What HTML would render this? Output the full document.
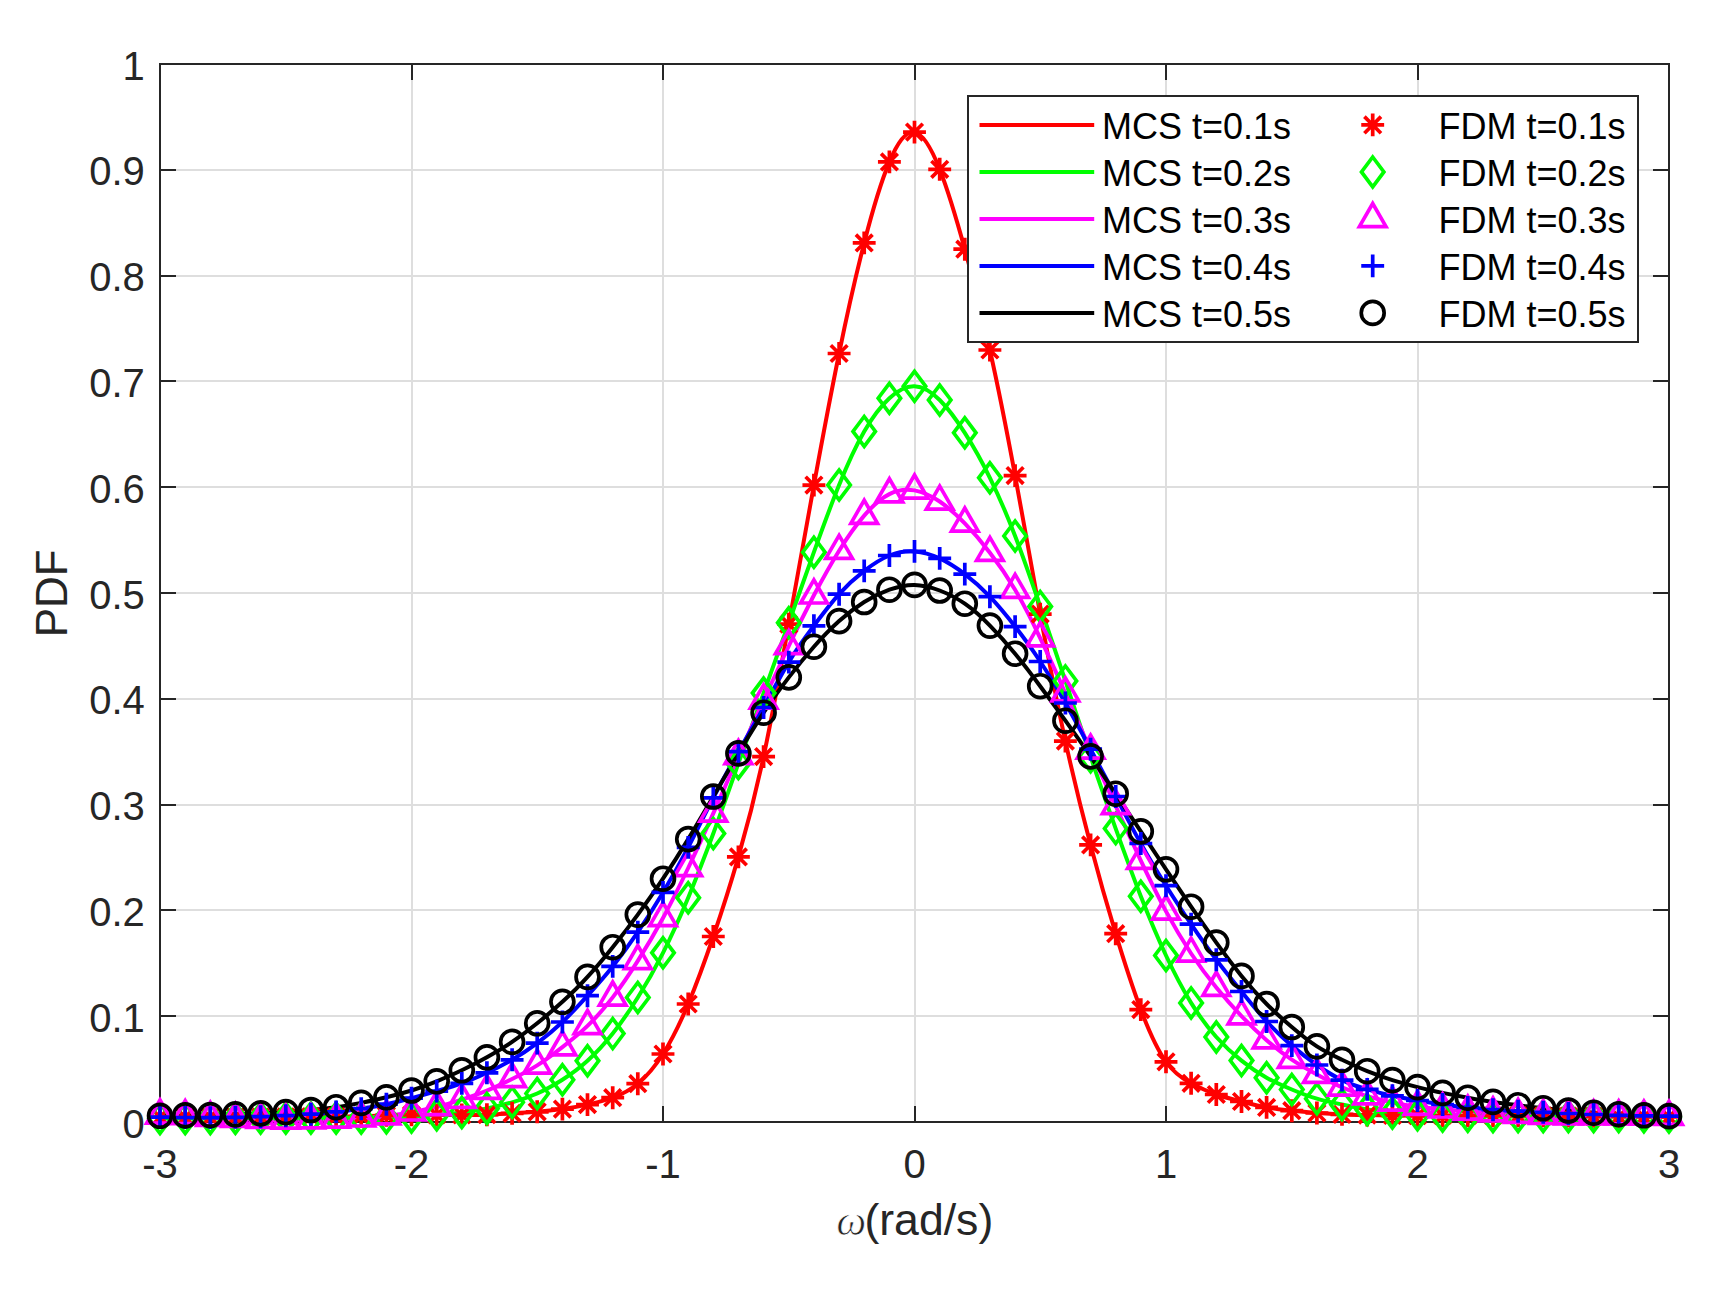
<!DOCTYPE html>
<html lang="en">
<head>
<meta charset="utf-8">
<title>PDF of omega: MCS vs FDM</title>
<style>
html,body{margin:0;padding:0;background:#fff;}
body{width:1720px;height:1295px;overflow:hidden;}
svg{display:block;}
text{font-family:"Liberation Sans", Arial, Helvetica, sans-serif;}
.tk{font-size:40px;fill:#262626;}
.lb{font-size:44px;fill:#262626;}
.lg{font-size:36px;fill:#000;}
.om{font-family:"Liberation Serif","DejaVu Serif",serif;font-style:italic;font-size:42px;}
</style>
</head>
<body>
<svg width="1720" height="1295" viewBox="0 0 1720 1295">
<rect x="0" y="0" width="1720" height="1295" fill="#ffffff"/>
<defs>
<g id="m0" fill="none" stroke="#ff0000" stroke-width="3.7"><path d="M-11.45 0H11.45 M0 -11.45V11.45 M-8.3 -8.3L8.3 8.3 M-8.3 8.3L8.3 -8.3"/></g>
<g id="m1" fill="none" stroke="#00ff00" stroke-width="3.7" stroke-linejoin="miter" stroke-miterlimit="10"><path d="M0 -14.9L11.2 0L0 14.9L-11.2 0Z"/></g>
<g id="m2" fill="none" stroke="#ff00ff" stroke-width="3.7" stroke-linejoin="miter" stroke-miterlimit="10"><path d="M0 -15.36L13.30 7.68L-13.30 7.68Z"/></g>
<g id="m3" fill="none" stroke="#0000ff" stroke-width="3.7"><path d="M-11.45 0H11.45 M0 -11.45V11.45"/></g>
<g id="m4" fill="none" stroke="#000000" stroke-width="3.7"><circle cx="0" cy="0" r="11.45"/></g>
<clipPath id="cp"><rect x="160" y="64" width="1509" height="1058"/></clipPath>
</defs>
<path d="M160 64V1122 M412 64V1122 M663 64V1122 M915 64V1122 M1166 64V1122 M1418 64V1122 M1669 64V1122 M160 1122H1669 M160 1016H1669 M160 910H1669 M160 805H1669 M160 699H1669 M160 593H1669 M160 487H1669 M160 381H1669 M160 276H1669 M160 170H1669 M160 64H1669" stroke="#dedede" stroke-width="2" fill="none"/>
<path d="M412 1122v-16 M412 64v16 M663 1122v-16 M663 64v16 M915 1122v-16 M915 64v16 M1166 1122v-16 M1166 64v16 M1418 1122v-16 M1418 64v16 M160 1016h16 M1669 1016h-16 M160 910h16 M1669 910h-16 M160 805h16 M1669 805h-16 M160 699h16 M1669 699h-16 M160 593h16 M1669 593h-16 M160 487h16 M1669 487h-16 M160 381h16 M1669 381h-16 M160 276h16 M1669 276h-16 M160 170h16 M1669 170h-16" stroke="#262626" stroke-width="2" fill="none"/>
<rect x="160" y="64" width="1509" height="1058" fill="none" stroke="#262626" stroke-width="2"/>
<text class="tk" x="160" y="1177.5" text-anchor="middle">-3</text>
<text class="tk" x="411.5" y="1177.5" text-anchor="middle">-2</text>
<text class="tk" x="663" y="1177.5" text-anchor="middle">-1</text>
<text class="tk" x="914.5" y="1177.5" text-anchor="middle">0</text>
<text class="tk" x="1166" y="1177.5" text-anchor="middle">1</text>
<text class="tk" x="1417.5" y="1177.5" text-anchor="middle">2</text>
<text class="tk" x="1669" y="1177.5" text-anchor="middle">3</text>
<text class="tk" x="144.8" y="1137.5" text-anchor="end">0</text>
<text class="tk" x="144.8" y="1031.7" text-anchor="end">0.1</text>
<text class="tk" x="144.8" y="925.9" text-anchor="end">0.2</text>
<text class="tk" x="144.8" y="820.1" text-anchor="end">0.3</text>
<text class="tk" x="144.8" y="714.3" text-anchor="end">0.4</text>
<text class="tk" x="144.8" y="608.5" text-anchor="end">0.5</text>
<text class="tk" x="144.8" y="502.7" text-anchor="end">0.6</text>
<text class="tk" x="144.8" y="396.9" text-anchor="end">0.7</text>
<text class="tk" x="144.8" y="291.1" text-anchor="end">0.8</text>
<text class="tk" x="144.8" y="185.3" text-anchor="end">0.9</text>
<text class="tk" x="144.8" y="79.5" text-anchor="end">1</text>
<text class="om" x="836.5" y="1234.5" fill="#262626" stroke="#ffffff" stroke-width="0.7">ω</text>
<text class="lb" x="864.4" y="1234.5" style="font-size:44.6px">(rad/s)</text>
<text class="lb" transform="translate(67.2 593.3) rotate(-90)" text-anchor="middle">PDF</text>
<g clip-path="url(#cp)" fill="none" stroke-width="4" stroke-linejoin="round">
<path stroke="#ff0000" d="M160 1117.2C168.4 1117.2 176.8 1117.2 185.2 1117.2C193.5 1117.2 201.9 1117.3 210.3 1117.2C218.7 1117.2 227.1 1117.2 235.4 1117.1C243.8 1117.1 252.2 1117.1 260.6 1117.0C269.0 1117.0 277.4 1117.0 285.8 1116.9C294.1 1116.9 302.5 1116.8 310.9 1116.7C319.3 1116.6 327.7 1116.6 336.1 1116.5C344.4 1116.4 352.8 1116.4 361.2 1116.2C369.6 1116.0 378.0 1115.7 386.4 1115.4C394.7 1115.2 403.1 1115.0 411.5 1114.9C419.9 1114.9 428.3 1115.0 436.7 1115.0C445.0 1115.1 453.4 1115.0 461.8 1115.0C470.2 1115.0 478.6 1115.0 486.9 1114.7C495.3 1114.4 503.7 1113.8 512.1 1113.3C520.5 1112.8 528.9 1112.5 537.2 1111.8C545.6 1111.2 554.0 1110.3 562.4 1109.1C570.8 1107.9 579.2 1106.4 587.5 1104.6C595.9 1102.9 604.3 1100.7 612.7 1097.7C621.1 1094.6 629.5 1090.5 637.8 1083.7C646.2 1076.9 654.6 1067.2 663.0 1054.0C671.4 1040.7 679.8 1023.9 688.2 1004.0C696.5 984.1 704.9 961.1 713.3 936.5C721.7 912.0 730.1 885.9 738.4 856.9C746.8 827.8 755.2 795.8 763.6 756.6C772.0 717.3 780.4 670.8 788.8 624.2C797.1 577.6 805.5 530.9 813.9 485.1C822.3 439.3 830.7 394.4 839.1 353.5C847.4 312.6 855.8 275.6 864.2 242.9C872.6 210.2 881.0 181.8 889.4 161.9C897.7 142.0 906.1 130.6 914.5 132.1C922.9 133.6 931.3 148.0 939.7 169.3C948.0 190.5 956.4 218.7 964.8 249.2C973.2 279.6 981.6 312.3 989.9 350.0C998.3 387.7 1006.7 430.3 1015.1 475.6C1023.5 520.8 1031.9 568.6 1040.2 614.1C1048.6 659.5 1057.0 702.7 1065.4 741.1C1073.8 779.6 1082.2 813.3 1090.6 844.9C1098.9 876.5 1107.3 905.9 1115.7 933.7C1124.1 961.4 1132.5 987.5 1140.8 1009.6C1149.2 1031.8 1157.6 1050.1 1166.0 1061.8C1174.4 1073.5 1182.8 1078.8 1191.1 1083.3C1199.5 1087.8 1207.9 1091.6 1216.3 1094.5C1224.7 1097.4 1233.1 1099.4 1241.5 1101.5C1249.8 1103.6 1258.2 1105.8 1266.6 1107.4C1275.0 1109.0 1283.4 1109.8 1291.8 1110.7C1300.1 1111.5 1308.5 1112.4 1316.9 1113.0C1325.3 1113.6 1333.7 1114.1 1342.0 1114.4C1350.4 1114.7 1358.8 1115.0 1367.2 1115.1C1375.6 1115.3 1384.0 1115.4 1392.4 1115.4C1400.7 1115.5 1409.1 1115.6 1417.5 1115.7C1425.9 1115.7 1434.3 1115.7 1442.6 1115.7C1451.0 1115.6 1459.4 1115.6 1467.8 1115.7C1476.2 1115.7 1484.6 1115.7 1493.0 1115.7C1501.3 1115.6 1509.7 1115.6 1518.1 1115.7C1526.5 1115.7 1534.9 1115.8 1543.2 1115.9C1551.6 1115.9 1560.0 1116.0 1568.4 1116.1C1576.8 1116.1 1585.2 1116.2 1593.6 1116.3C1601.9 1116.4 1610.3 1116.4 1618.7 1116.5C1627.1 1116.6 1635.5 1116.6 1643.9 1116.7C1652.2 1116.8 1660.6 1116.9 1669.0 1116.9"/>
<path stroke="#00ff00" d="M160 1118.4C168.4 1118.4 176.8 1118.4 185.2 1118.4C193.5 1118.4 201.9 1118.4 210.3 1118.4C218.7 1118.4 227.1 1118.4 235.4 1118.3C243.8 1118.2 252.2 1118.2 260.6 1118.1C269.0 1118.0 277.4 1117.9 285.8 1117.9C294.1 1117.9 302.5 1118.0 310.9 1118.0C319.3 1118.0 327.7 1118.0 336.1 1118.0C344.4 1118.0 352.8 1118.0 361.2 1118.0C369.6 1117.9 378.0 1117.8 386.4 1117.7C394.7 1117.6 403.1 1117.5 411.5 1117.0C419.9 1116.5 428.3 1115.6 436.7 1114.8C445.0 1114.0 453.4 1113.5 461.8 1112.5C470.2 1111.5 478.6 1110.1 486.9 1108.4C495.3 1106.6 503.7 1104.7 512.1 1102.3C520.5 1100.0 528.9 1097.2 537.2 1093.5C545.6 1089.8 554.0 1085.1 562.4 1079.8C570.8 1074.4 579.2 1068.4 587.5 1060.8C595.9 1053.3 604.3 1044.2 612.7 1033.6C621.1 1022.9 629.5 1010.9 637.8 997.5C646.2 984.1 654.6 969.4 663.0 952.8C671.4 936.2 679.8 917.7 688.2 897.7C696.5 877.7 704.9 856.1 713.3 833.5C721.7 810.8 730.1 787.0 738.4 763.4C746.8 739.9 755.2 716.5 763.6 693.1C772.0 669.7 780.4 646.4 788.8 622.8C797.1 599.3 805.5 575.6 813.9 552.2C822.3 528.8 830.7 505.7 839.1 485.0C847.4 464.3 855.8 446.0 864.2 431.4C872.6 416.9 881.0 405.9 889.4 398.2C897.7 390.5 906.1 386.0 914.5 386.3C922.9 386.6 931.3 391.7 939.7 400.0C948.0 408.3 956.4 419.7 964.8 432.8C973.2 445.9 981.6 460.7 989.9 477.8C998.3 494.9 1006.7 514.2 1015.1 536.0C1023.5 557.7 1031.9 582.0 1040.2 606.4C1048.6 630.9 1057.0 655.7 1065.4 680.9C1073.8 706.2 1082.2 731.9 1090.6 756.7C1098.9 781.4 1107.3 805.2 1115.7 828.6C1124.1 852.0 1132.5 874.9 1140.8 896.3C1149.2 917.7 1157.6 937.6 1166.0 955.5C1174.4 973.4 1182.8 989.3 1191.1 1002.9C1199.5 1016.4 1207.9 1027.7 1216.3 1037.0C1224.7 1046.4 1233.1 1054.0 1241.5 1060.6C1249.8 1067.3 1258.2 1073.0 1266.6 1077.7C1275.0 1082.4 1283.4 1086.0 1291.8 1089.5C1300.1 1093.0 1308.5 1096.3 1316.9 1098.7C1325.3 1101.2 1333.7 1102.8 1342.0 1104.5C1350.4 1106.3 1358.8 1108.0 1367.2 1109.5C1375.6 1111.0 1384.0 1112.2 1392.4 1113.0C1400.7 1113.8 1409.1 1114.3 1417.5 1114.8C1425.9 1115.3 1434.3 1115.8 1442.6 1116.0C1451.0 1116.2 1459.4 1116.1 1467.8 1116.2C1476.2 1116.2 1484.6 1116.3 1493.0 1116.4C1501.3 1116.5 1509.7 1116.5 1518.1 1116.5C1526.5 1116.5 1534.9 1116.5 1543.2 1116.5C1551.6 1116.5 1560.0 1116.5 1568.4 1116.5C1576.8 1116.5 1585.2 1116.5 1593.6 1116.5C1601.9 1116.5 1610.3 1116.5 1618.7 1116.5C1627.1 1116.5 1635.5 1116.6 1643.9 1116.7C1652.2 1116.8 1660.6 1116.9 1669.0 1117.0"/>
<path stroke="#ff00ff" d="M160 1115.4C168.4 1115.2 176.8 1115.5 185.2 1116.0C193.5 1116.5 201.9 1117.2 210.3 1117.7C218.7 1118.2 227.1 1118.5 235.4 1118.8C243.8 1119.2 252.2 1119.5 260.6 1119.8C269.0 1120.1 277.4 1120.4 285.8 1120.4C294.1 1120.5 302.5 1120.3 310.9 1120.1C319.3 1119.9 327.7 1119.7 336.1 1119.5C344.4 1119.2 352.8 1118.8 361.2 1118.3C369.6 1117.8 378.0 1117.2 386.4 1116.2C394.7 1115.2 403.1 1113.8 411.5 1112.3C419.9 1110.7 428.3 1109.1 436.7 1107.0C445.0 1104.9 453.4 1102.4 461.8 1099.7C470.2 1097.0 478.6 1094.1 486.9 1090.7C495.3 1087.2 503.7 1083.2 512.1 1079.0C520.5 1074.9 528.9 1070.7 537.2 1065.4C545.6 1060.1 554.0 1053.6 562.4 1047.1C570.8 1040.6 579.2 1034.0 587.5 1025.9C595.9 1017.9 604.3 1008.3 612.7 997.4C621.1 986.4 629.5 974.1 637.8 960.9C646.2 947.6 654.6 933.5 663.0 918.0C671.4 902.5 679.8 885.5 688.2 868.0C696.5 850.4 704.9 832.3 713.3 813.4C721.7 794.5 730.1 774.9 738.4 755.9C746.8 737.0 755.2 718.7 763.6 700.4C772.0 682.1 780.4 663.7 788.8 646.0C797.1 628.3 805.5 611.4 813.9 595.3C822.3 579.3 830.7 564.2 839.1 550.7C847.4 537.2 855.8 525.3 864.2 515.6C872.6 505.8 881.0 498.3 889.4 494.1C897.7 489.8 906.1 488.9 914.5 490.4C922.9 491.9 931.3 495.8 939.7 501.5C948.0 507.2 956.4 514.7 964.8 523.4C973.2 532.0 981.6 541.8 989.9 552.7C998.3 563.5 1006.7 575.5 1015.1 589.7C1023.5 604.0 1031.9 620.5 1040.2 638.1C1048.6 655.6 1057.0 674.2 1065.4 693.2C1073.8 712.2 1082.2 731.7 1090.6 750.5C1098.9 769.4 1107.3 787.6 1115.7 806.0C1124.1 824.3 1132.5 842.8 1140.8 860.7C1149.2 878.5 1157.6 895.8 1166.0 911.4C1174.4 926.9 1182.8 940.9 1191.1 953.5C1199.5 966.1 1207.9 977.3 1216.3 987.6C1224.7 998.0 1233.1 1007.4 1241.5 1016.1C1249.8 1024.8 1258.2 1032.9 1266.6 1040.2C1275.0 1047.5 1283.4 1054.1 1291.8 1059.7C1300.1 1065.3 1308.5 1070.0 1316.9 1074.6C1325.3 1079.2 1333.7 1083.8 1342.0 1087.4C1350.4 1091.0 1358.8 1093.7 1367.2 1096.2C1375.6 1098.6 1384.0 1100.8 1392.4 1102.5C1400.7 1104.3 1409.1 1105.6 1417.5 1106.7C1425.9 1107.7 1434.3 1108.5 1442.6 1109.3C1451.0 1110.1 1459.4 1110.9 1467.8 1111.5C1476.2 1112.2 1484.6 1112.7 1493.0 1113.2C1501.3 1113.7 1509.7 1114.3 1518.1 1114.7C1526.5 1115.1 1534.9 1115.5 1543.2 1115.8C1551.6 1116.0 1560.0 1116.1 1568.4 1116.2C1576.8 1116.2 1585.2 1116.2 1593.6 1116.2C1601.9 1116.2 1610.3 1116.1 1618.7 1116.2C1627.1 1116.2 1635.5 1116.4 1643.9 1116.5C1652.2 1116.6 1660.6 1116.7 1669.0 1116.7"/>
<path stroke="#0000ff" d="M160 1117.2C168.4 1117.3 176.8 1117.4 185.2 1117.5C193.5 1117.5 201.9 1117.6 210.3 1117.6C218.7 1117.5 227.1 1117.5 235.4 1117.3C243.8 1117.2 252.2 1117.0 260.6 1116.7C269.0 1116.4 277.4 1116.1 285.8 1115.7C294.1 1115.2 302.5 1114.8 310.9 1114.2C319.3 1113.6 327.7 1112.9 336.1 1111.9C344.4 1111.0 352.8 1109.9 361.2 1108.7C369.6 1107.4 378.0 1106.0 386.4 1104.2C394.7 1102.5 403.1 1100.4 411.5 1098.2C419.9 1095.9 428.3 1093.5 436.7 1091.1C445.0 1088.7 453.4 1086.4 461.8 1083.4C470.2 1080.4 478.6 1076.7 486.9 1072.8C495.3 1068.9 503.7 1064.7 512.1 1059.8C520.5 1054.9 528.9 1049.3 537.2 1043.1C545.6 1036.8 554.0 1030.0 562.4 1022.0C570.8 1014.1 579.2 1005.0 587.5 995.7C595.9 986.4 604.3 976.9 612.7 966.4C621.1 955.9 629.5 944.4 637.8 932.1C646.2 919.7 654.6 906.5 663.0 892.4C671.4 878.4 679.8 863.5 688.2 847.4C696.5 831.4 704.9 814.2 713.3 797.9C721.7 781.7 730.1 766.4 738.4 751.7C746.8 737.0 755.2 722.7 763.6 707.5C772.0 692.2 780.4 675.9 788.8 662.1C797.1 648.3 805.5 637.0 813.9 625.8C822.3 614.6 830.7 603.5 839.1 594.2C847.4 584.9 855.8 577.4 864.2 570.9C872.6 564.4 881.0 558.9 889.4 555.5C897.7 552.2 906.1 550.8 914.5 551.4C922.9 552.0 931.3 554.5 939.7 558.4C948.0 562.3 956.4 567.7 964.8 574.1C973.2 580.4 981.6 587.9 989.9 596.7C998.3 605.6 1006.7 615.8 1015.1 626.6C1023.5 637.4 1031.9 648.8 1040.2 661.5C1048.6 674.1 1057.0 688.2 1065.4 703.0C1073.8 717.9 1082.2 733.5 1090.6 749.2C1098.9 764.8 1107.3 780.5 1115.7 796.5C1124.1 812.4 1132.5 828.5 1140.8 843.5C1149.2 858.6 1157.6 872.4 1166.0 885.7C1174.4 899.0 1182.8 911.8 1191.1 924.2C1199.5 936.6 1207.9 948.6 1216.3 959.8C1224.7 971.0 1233.1 981.2 1241.5 991.5C1249.8 1001.9 1258.2 1012.3 1266.6 1021.5C1275.0 1030.6 1283.4 1038.5 1291.8 1045.6C1300.1 1052.7 1308.5 1059.1 1316.9 1065.0C1325.3 1070.8 1333.7 1076.1 1342.0 1080.1C1350.4 1084.1 1358.8 1087.0 1367.2 1089.4C1375.6 1091.9 1384.0 1094.0 1392.4 1095.8C1400.7 1097.6 1409.1 1099.1 1417.5 1100.5C1425.9 1102.0 1434.3 1103.4 1442.6 1104.5C1451.0 1105.7 1459.4 1106.6 1467.8 1107.4C1476.2 1108.2 1484.6 1109.1 1493.0 1109.7C1501.3 1110.4 1509.7 1110.8 1518.1 1111.2C1526.5 1111.6 1534.9 1111.9 1543.2 1112.3C1551.6 1112.7 1560.0 1113.2 1568.4 1113.5C1576.8 1113.9 1585.2 1114.2 1593.6 1114.5C1601.9 1114.8 1610.3 1115.1 1618.7 1115.3C1627.1 1115.6 1635.5 1115.7 1643.9 1115.8C1652.2 1115.9 1660.6 1115.9 1669.0 1116.1"/>
<path stroke="#000000" d="M160 1115.8C168.4 1115.6 176.8 1115.5 185.2 1115.4C193.5 1115.3 201.9 1115.2 210.3 1115.0C218.7 1114.8 227.1 1114.5 235.4 1114.3C243.8 1114.0 252.2 1113.8 260.6 1113.4C269.0 1113.1 277.4 1112.6 285.8 1112.1C294.1 1111.5 302.5 1110.8 310.9 1110.0C319.3 1109.3 327.7 1108.4 336.1 1107.2C344.4 1106.0 352.8 1104.5 361.2 1102.9C369.6 1101.2 378.0 1099.4 386.4 1097.3C394.7 1095.3 403.1 1093.1 411.5 1090.5C419.9 1087.8 428.3 1084.7 436.7 1081.3C445.0 1077.9 453.4 1074.3 461.8 1070.3C470.2 1066.3 478.6 1061.9 486.9 1057.3C495.3 1052.6 503.7 1047.6 512.1 1041.9C520.5 1036.3 528.9 1030.0 537.2 1023.3C545.6 1016.6 554.0 1009.4 562.4 1001.8C570.8 994.2 579.2 986.1 587.5 976.9C595.9 967.8 604.3 957.7 612.7 947.2C621.1 936.8 629.5 926.0 637.8 914.6C646.2 903.3 654.6 891.3 663.0 878.7C671.4 866.1 679.8 852.9 688.2 839.1C696.5 825.3 704.9 810.9 713.3 796.5C721.7 782.0 730.1 767.6 738.4 753.4C746.8 739.2 755.2 725.4 763.6 712.7C772.0 699.9 780.4 688.4 788.8 677.4C797.1 666.5 805.5 656.2 813.9 646.7C822.3 637.3 830.7 628.7 839.1 621.1C847.4 613.6 855.8 607.2 864.2 602.0C872.6 596.8 881.0 592.7 889.4 589.7C897.7 586.7 906.1 584.7 914.5 584.9C922.9 585.0 931.3 587.3 939.7 590.5C948.0 593.7 956.4 597.8 964.8 603.7C973.2 609.5 981.6 617.1 989.9 625.6C998.3 634.1 1006.7 643.5 1015.1 653.7C1023.5 663.9 1031.9 674.9 1040.2 686.2C1048.6 697.5 1057.0 709.0 1065.4 720.7C1073.8 732.4 1082.2 744.2 1090.6 756.4C1098.9 768.6 1107.3 781.2 1115.7 793.7C1124.1 806.3 1132.5 818.7 1140.8 831.4C1149.2 844.0 1157.6 856.7 1166.0 869.3C1174.4 882.0 1182.8 894.5 1191.1 906.7C1199.5 918.9 1207.9 930.9 1216.3 942.6C1224.7 954.2 1233.1 965.5 1241.5 975.9C1249.8 986.2 1258.2 995.6 1266.6 1004.0C1275.0 1012.4 1283.4 1019.9 1291.8 1027.0C1300.1 1034.1 1308.5 1040.9 1316.9 1046.4C1325.3 1051.8 1333.7 1055.8 1342.0 1059.8C1350.4 1063.8 1358.8 1067.8 1367.2 1071.2C1375.6 1074.6 1384.0 1077.5 1392.4 1080.1C1400.7 1082.7 1409.1 1085.0 1417.5 1087.1C1425.9 1089.2 1434.3 1091.2 1442.6 1092.9C1451.0 1094.6 1459.4 1096.2 1467.8 1097.7C1476.2 1099.2 1484.6 1100.7 1493.0 1101.9C1501.3 1103.1 1509.7 1104.1 1518.1 1105.2C1526.5 1106.2 1534.9 1107.4 1543.2 1108.2C1551.6 1109.1 1560.0 1109.7 1568.4 1110.5C1576.8 1111.2 1585.2 1112.1 1593.6 1112.7C1601.9 1113.3 1610.3 1113.8 1618.7 1114.2C1627.1 1114.6 1635.5 1115.0 1643.9 1115.3C1652.2 1115.7 1660.6 1115.9 1669.0 1116.1"/>
</g>
<g><use href="#m0" x="160.0" y="1117.2"/><use href="#m0" x="185.2" y="1117.2"/><use href="#m0" x="210.3" y="1117.2"/><use href="#m0" x="235.4" y="1117.1"/><use href="#m0" x="260.6" y="1117.0"/><use href="#m0" x="285.8" y="1116.9"/><use href="#m0" x="310.9" y="1116.7"/><use href="#m0" x="336.1" y="1116.5"/><use href="#m0" x="361.2" y="1116.2"/><use href="#m0" x="386.4" y="1115.4"/><use href="#m0" x="411.5" y="1114.9"/><use href="#m0" x="436.7" y="1115.0"/><use href="#m0" x="461.8" y="1115.0"/><use href="#m0" x="486.9" y="1114.7"/><use href="#m0" x="512.1" y="1113.3"/><use href="#m0" x="537.2" y="1111.8"/><use href="#m0" x="562.4" y="1109.1"/><use href="#m0" x="587.5" y="1104.6"/><use href="#m0" x="612.7" y="1097.7"/><use href="#m0" x="637.8" y="1083.7"/><use href="#m0" x="663.0" y="1054.0"/><use href="#m0" x="688.2" y="1004.0"/><use href="#m0" x="713.3" y="936.5"/><use href="#m0" x="738.4" y="856.9"/><use href="#m0" x="763.6" y="756.6"/><use href="#m0" x="788.8" y="624.2"/><use href="#m0" x="813.9" y="485.1"/><use href="#m0" x="839.1" y="353.5"/><use href="#m0" x="864.2" y="242.9"/><use href="#m0" x="889.4" y="161.9"/><use href="#m0" x="914.5" y="132.1"/><use href="#m0" x="939.7" y="169.3"/><use href="#m0" x="964.8" y="249.2"/><use href="#m0" x="989.9" y="350.0"/><use href="#m0" x="1015.1" y="475.6"/><use href="#m0" x="1040.2" y="614.1"/><use href="#m0" x="1065.4" y="741.1"/><use href="#m0" x="1090.6" y="844.9"/><use href="#m0" x="1115.7" y="933.7"/><use href="#m0" x="1140.8" y="1009.6"/><use href="#m0" x="1166.0" y="1061.8"/><use href="#m0" x="1191.1" y="1083.3"/><use href="#m0" x="1216.3" y="1094.5"/><use href="#m0" x="1241.5" y="1101.5"/><use href="#m0" x="1266.6" y="1107.4"/><use href="#m0" x="1291.8" y="1110.7"/><use href="#m0" x="1316.9" y="1113.0"/><use href="#m0" x="1342.0" y="1114.4"/><use href="#m0" x="1367.2" y="1115.1"/><use href="#m0" x="1392.4" y="1115.4"/><use href="#m0" x="1417.5" y="1115.7"/><use href="#m0" x="1442.6" y="1115.7"/><use href="#m0" x="1467.8" y="1115.7"/><use href="#m0" x="1493.0" y="1115.7"/><use href="#m0" x="1518.1" y="1115.7"/><use href="#m0" x="1543.2" y="1115.9"/><use href="#m0" x="1568.4" y="1116.1"/><use href="#m0" x="1593.6" y="1116.3"/><use href="#m0" x="1618.7" y="1116.5"/><use href="#m0" x="1643.9" y="1116.7"/><use href="#m0" x="1669.0" y="1116.9"/></g>
<g><use href="#m1" x="160.0" y="1118.4"/><use href="#m1" x="185.2" y="1118.4"/><use href="#m1" x="210.3" y="1118.4"/><use href="#m1" x="235.4" y="1118.3"/><use href="#m1" x="260.6" y="1118.1"/><use href="#m1" x="285.8" y="1117.9"/><use href="#m1" x="310.9" y="1118.0"/><use href="#m1" x="336.1" y="1118.0"/><use href="#m1" x="361.2" y="1118.0"/><use href="#m1" x="386.4" y="1117.7"/><use href="#m1" x="411.5" y="1117.0"/><use href="#m1" x="436.7" y="1114.8"/><use href="#m1" x="461.8" y="1112.5"/><use href="#m1" x="486.9" y="1108.4"/><use href="#m1" x="512.1" y="1102.3"/><use href="#m1" x="537.2" y="1093.5"/><use href="#m1" x="562.4" y="1079.8"/><use href="#m1" x="587.5" y="1060.8"/><use href="#m1" x="612.7" y="1033.6"/><use href="#m1" x="637.8" y="997.5"/><use href="#m1" x="663.0" y="952.8"/><use href="#m1" x="688.2" y="897.7"/><use href="#m1" x="713.3" y="833.5"/><use href="#m1" x="738.4" y="763.4"/><use href="#m1" x="763.6" y="693.1"/><use href="#m1" x="788.8" y="622.8"/><use href="#m1" x="813.9" y="552.2"/><use href="#m1" x="839.1" y="485.0"/><use href="#m1" x="864.2" y="431.4"/><use href="#m1" x="889.4" y="398.2"/><use href="#m1" x="914.5" y="386.3"/><use href="#m1" x="939.7" y="400.0"/><use href="#m1" x="964.8" y="432.8"/><use href="#m1" x="989.9" y="477.8"/><use href="#m1" x="1015.1" y="536.0"/><use href="#m1" x="1040.2" y="606.4"/><use href="#m1" x="1065.4" y="680.9"/><use href="#m1" x="1090.6" y="756.7"/><use href="#m1" x="1115.7" y="828.6"/><use href="#m1" x="1140.8" y="896.3"/><use href="#m1" x="1166.0" y="955.5"/><use href="#m1" x="1191.1" y="1002.9"/><use href="#m1" x="1216.3" y="1037.0"/><use href="#m1" x="1241.5" y="1060.6"/><use href="#m1" x="1266.6" y="1077.7"/><use href="#m1" x="1291.8" y="1089.5"/><use href="#m1" x="1316.9" y="1098.7"/><use href="#m1" x="1342.0" y="1104.5"/><use href="#m1" x="1367.2" y="1109.5"/><use href="#m1" x="1392.4" y="1113.0"/><use href="#m1" x="1417.5" y="1114.8"/><use href="#m1" x="1442.6" y="1116.0"/><use href="#m1" x="1467.8" y="1116.2"/><use href="#m1" x="1493.0" y="1116.4"/><use href="#m1" x="1518.1" y="1116.5"/><use href="#m1" x="1543.2" y="1116.5"/><use href="#m1" x="1568.4" y="1116.5"/><use href="#m1" x="1593.6" y="1116.5"/><use href="#m1" x="1618.7" y="1116.5"/><use href="#m1" x="1643.9" y="1116.7"/><use href="#m1" x="1669.0" y="1117.0"/></g>
<g><use href="#m2" x="160.0" y="1115.4"/><use href="#m2" x="185.2" y="1116.0"/><use href="#m2" x="210.3" y="1117.7"/><use href="#m2" x="235.4" y="1118.8"/><use href="#m2" x="260.6" y="1119.8"/><use href="#m2" x="285.8" y="1120.4"/><use href="#m2" x="310.9" y="1120.1"/><use href="#m2" x="336.1" y="1119.5"/><use href="#m2" x="361.2" y="1118.3"/><use href="#m2" x="386.4" y="1116.2"/><use href="#m2" x="411.5" y="1112.3"/><use href="#m2" x="436.7" y="1107.0"/><use href="#m2" x="461.8" y="1099.7"/><use href="#m2" x="486.9" y="1090.7"/><use href="#m2" x="512.1" y="1079.0"/><use href="#m2" x="537.2" y="1065.4"/><use href="#m2" x="562.4" y="1047.1"/><use href="#m2" x="587.5" y="1025.9"/><use href="#m2" x="612.7" y="997.4"/><use href="#m2" x="637.8" y="960.9"/><use href="#m2" x="663.0" y="918.0"/><use href="#m2" x="688.2" y="868.0"/><use href="#m2" x="713.3" y="813.4"/><use href="#m2" x="738.4" y="755.9"/><use href="#m2" x="763.6" y="700.4"/><use href="#m2" x="788.8" y="646.0"/><use href="#m2" x="813.9" y="595.3"/><use href="#m2" x="839.1" y="550.7"/><use href="#m2" x="864.2" y="515.6"/><use href="#m2" x="889.4" y="494.1"/><use href="#m2" x="914.5" y="490.4"/><use href="#m2" x="939.7" y="501.5"/><use href="#m2" x="964.8" y="523.4"/><use href="#m2" x="989.9" y="552.7"/><use href="#m2" x="1015.1" y="589.7"/><use href="#m2" x="1040.2" y="638.1"/><use href="#m2" x="1065.4" y="693.2"/><use href="#m2" x="1090.6" y="750.5"/><use href="#m2" x="1115.7" y="806.0"/><use href="#m2" x="1140.8" y="860.7"/><use href="#m2" x="1166.0" y="911.4"/><use href="#m2" x="1191.1" y="953.5"/><use href="#m2" x="1216.3" y="987.6"/><use href="#m2" x="1241.5" y="1016.1"/><use href="#m2" x="1266.6" y="1040.2"/><use href="#m2" x="1291.8" y="1059.7"/><use href="#m2" x="1316.9" y="1074.6"/><use href="#m2" x="1342.0" y="1087.4"/><use href="#m2" x="1367.2" y="1096.2"/><use href="#m2" x="1392.4" y="1102.5"/><use href="#m2" x="1417.5" y="1106.7"/><use href="#m2" x="1442.6" y="1109.3"/><use href="#m2" x="1467.8" y="1111.5"/><use href="#m2" x="1493.0" y="1113.2"/><use href="#m2" x="1518.1" y="1114.7"/><use href="#m2" x="1543.2" y="1115.8"/><use href="#m2" x="1568.4" y="1116.2"/><use href="#m2" x="1593.6" y="1116.2"/><use href="#m2" x="1618.7" y="1116.2"/><use href="#m2" x="1643.9" y="1116.5"/><use href="#m2" x="1669.0" y="1116.7"/></g>
<g><use href="#m3" x="160.0" y="1117.2"/><use href="#m3" x="185.2" y="1117.5"/><use href="#m3" x="210.3" y="1117.6"/><use href="#m3" x="235.4" y="1117.3"/><use href="#m3" x="260.6" y="1116.7"/><use href="#m3" x="285.8" y="1115.7"/><use href="#m3" x="310.9" y="1114.2"/><use href="#m3" x="336.1" y="1111.9"/><use href="#m3" x="361.2" y="1108.7"/><use href="#m3" x="386.4" y="1104.2"/><use href="#m3" x="411.5" y="1098.2"/><use href="#m3" x="436.7" y="1091.1"/><use href="#m3" x="461.8" y="1083.4"/><use href="#m3" x="486.9" y="1072.8"/><use href="#m3" x="512.1" y="1059.8"/><use href="#m3" x="537.2" y="1043.1"/><use href="#m3" x="562.4" y="1022.0"/><use href="#m3" x="587.5" y="995.7"/><use href="#m3" x="612.7" y="966.4"/><use href="#m3" x="637.8" y="932.1"/><use href="#m3" x="663.0" y="892.4"/><use href="#m3" x="688.2" y="847.4"/><use href="#m3" x="713.3" y="797.9"/><use href="#m3" x="738.4" y="751.7"/><use href="#m3" x="763.6" y="707.5"/><use href="#m3" x="788.8" y="662.1"/><use href="#m3" x="813.9" y="625.8"/><use href="#m3" x="839.1" y="594.2"/><use href="#m3" x="864.2" y="570.9"/><use href="#m3" x="889.4" y="555.5"/><use href="#m3" x="914.5" y="551.4"/><use href="#m3" x="939.7" y="558.4"/><use href="#m3" x="964.8" y="574.1"/><use href="#m3" x="989.9" y="596.7"/><use href="#m3" x="1015.1" y="626.6"/><use href="#m3" x="1040.2" y="661.5"/><use href="#m3" x="1065.4" y="703.0"/><use href="#m3" x="1090.6" y="749.2"/><use href="#m3" x="1115.7" y="796.5"/><use href="#m3" x="1140.8" y="843.5"/><use href="#m3" x="1166.0" y="885.7"/><use href="#m3" x="1191.1" y="924.2"/><use href="#m3" x="1216.3" y="959.8"/><use href="#m3" x="1241.5" y="991.5"/><use href="#m3" x="1266.6" y="1021.5"/><use href="#m3" x="1291.8" y="1045.6"/><use href="#m3" x="1316.9" y="1065.0"/><use href="#m3" x="1342.0" y="1080.1"/><use href="#m3" x="1367.2" y="1089.4"/><use href="#m3" x="1392.4" y="1095.8"/><use href="#m3" x="1417.5" y="1100.5"/><use href="#m3" x="1442.6" y="1104.5"/><use href="#m3" x="1467.8" y="1107.4"/><use href="#m3" x="1493.0" y="1109.7"/><use href="#m3" x="1518.1" y="1111.2"/><use href="#m3" x="1543.2" y="1112.3"/><use href="#m3" x="1568.4" y="1113.5"/><use href="#m3" x="1593.6" y="1114.5"/><use href="#m3" x="1618.7" y="1115.3"/><use href="#m3" x="1643.9" y="1115.8"/><use href="#m3" x="1669.0" y="1116.1"/></g>
<g><use href="#m4" x="160.0" y="1115.8"/><use href="#m4" x="185.2" y="1115.4"/><use href="#m4" x="210.3" y="1115.0"/><use href="#m4" x="235.4" y="1114.3"/><use href="#m4" x="260.6" y="1113.4"/><use href="#m4" x="285.8" y="1112.1"/><use href="#m4" x="310.9" y="1110.0"/><use href="#m4" x="336.1" y="1107.2"/><use href="#m4" x="361.2" y="1102.9"/><use href="#m4" x="386.4" y="1097.3"/><use href="#m4" x="411.5" y="1090.5"/><use href="#m4" x="436.7" y="1081.3"/><use href="#m4" x="461.8" y="1070.3"/><use href="#m4" x="486.9" y="1057.3"/><use href="#m4" x="512.1" y="1041.9"/><use href="#m4" x="537.2" y="1023.3"/><use href="#m4" x="562.4" y="1001.8"/><use href="#m4" x="587.5" y="976.9"/><use href="#m4" x="612.7" y="947.2"/><use href="#m4" x="637.8" y="914.6"/><use href="#m4" x="663.0" y="878.7"/><use href="#m4" x="688.2" y="839.1"/><use href="#m4" x="713.3" y="796.5"/><use href="#m4" x="738.4" y="753.4"/><use href="#m4" x="763.6" y="712.7"/><use href="#m4" x="788.8" y="677.4"/><use href="#m4" x="813.9" y="646.7"/><use href="#m4" x="839.1" y="621.1"/><use href="#m4" x="864.2" y="602.0"/><use href="#m4" x="889.4" y="589.7"/><use href="#m4" x="914.5" y="584.9"/><use href="#m4" x="939.7" y="590.5"/><use href="#m4" x="964.8" y="603.7"/><use href="#m4" x="989.9" y="625.6"/><use href="#m4" x="1015.1" y="653.7"/><use href="#m4" x="1040.2" y="686.2"/><use href="#m4" x="1065.4" y="720.7"/><use href="#m4" x="1090.6" y="756.4"/><use href="#m4" x="1115.7" y="793.7"/><use href="#m4" x="1140.8" y="831.4"/><use href="#m4" x="1166.0" y="869.3"/><use href="#m4" x="1191.1" y="906.7"/><use href="#m4" x="1216.3" y="942.6"/><use href="#m4" x="1241.5" y="975.9"/><use href="#m4" x="1266.6" y="1004.0"/><use href="#m4" x="1291.8" y="1027.0"/><use href="#m4" x="1316.9" y="1046.4"/><use href="#m4" x="1342.0" y="1059.8"/><use href="#m4" x="1367.2" y="1071.2"/><use href="#m4" x="1392.4" y="1080.1"/><use href="#m4" x="1417.5" y="1087.1"/><use href="#m4" x="1442.6" y="1092.9"/><use href="#m4" x="1467.8" y="1097.7"/><use href="#m4" x="1493.0" y="1101.9"/><use href="#m4" x="1518.1" y="1105.2"/><use href="#m4" x="1543.2" y="1108.2"/><use href="#m4" x="1568.4" y="1110.5"/><use href="#m4" x="1593.6" y="1112.7"/><use href="#m4" x="1618.7" y="1114.2"/><use href="#m4" x="1643.9" y="1115.3"/><use href="#m4" x="1669.0" y="1116.1"/></g>
<rect x="968" y="96" width="670" height="246" fill="#ffffff" stroke="#262626" stroke-width="2"/>
<path d="M979.5 124.9H1094.2" stroke="#ff0000" stroke-width="4" fill="none"/>
<text class="lg" x="1102" y="139.1">MCS t=0.1s</text>
<use href="#m0" x="1372.7" y="124.9"/>
<text class="lg" x="1438.5" y="139.1">FDM t=0.1s</text>
<path d="M979.5 171.9H1094.2" stroke="#00ff00" stroke-width="4" fill="none"/>
<text class="lg" x="1102" y="186.1">MCS t=0.2s</text>
<use href="#m1" x="1372.7" y="171.9"/>
<text class="lg" x="1438.5" y="186.1">FDM t=0.2s</text>
<path d="M979.5 218.9H1094.2" stroke="#ff00ff" stroke-width="4" fill="none"/>
<text class="lg" x="1102" y="233.1">MCS t=0.3s</text>
<use href="#m2" x="1372.7" y="218.9"/>
<text class="lg" x="1438.5" y="233.1">FDM t=0.3s</text>
<path d="M979.5 265.9H1094.2" stroke="#0000ff" stroke-width="4" fill="none"/>
<text class="lg" x="1102" y="280.1">MCS t=0.4s</text>
<use href="#m3" x="1372.7" y="265.9"/>
<text class="lg" x="1438.5" y="280.1">FDM t=0.4s</text>
<path d="M979.5 312.9H1094.2" stroke="#000000" stroke-width="4" fill="none"/>
<text class="lg" x="1102" y="327.1">MCS t=0.5s</text>
<use href="#m4" x="1372.7" y="312.9"/>
<text class="lg" x="1438.5" y="327.1">FDM t=0.5s</text>
</svg>
</body>
</html>
